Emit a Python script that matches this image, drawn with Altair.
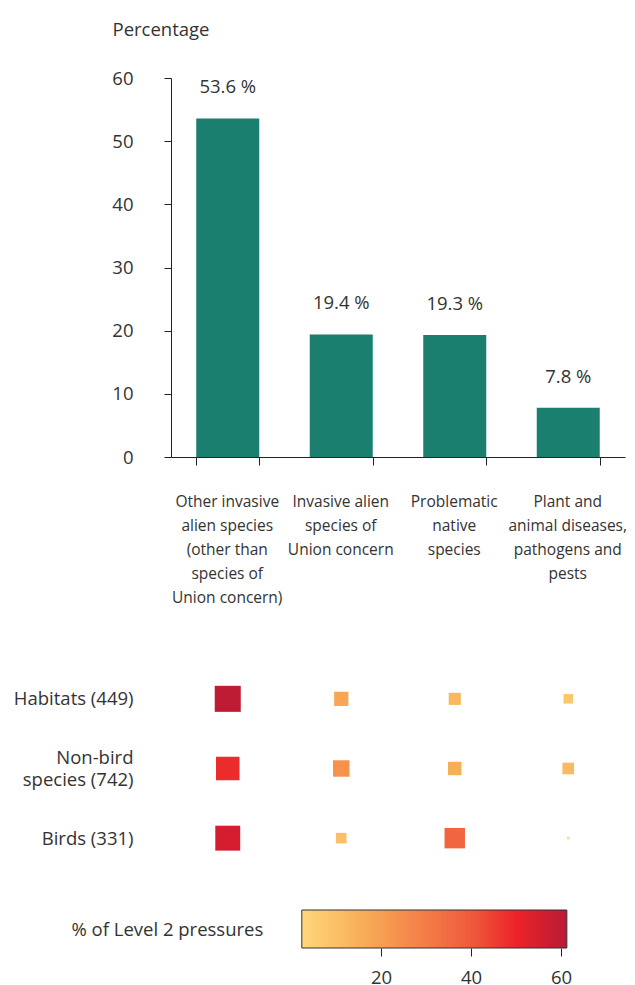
import json
import altair as alt
import pandas as pd

# ---- data ----
categories = [
    "Other invasive alien species (other than species of Union concern)",
    "Invasive alien species of Union concern",
    "Problematic native species",
    "Plant and animal diseases, pathogens and pests",
]
category_lines = [
    ["Other invasive", "alien species", "(other than", "species of", "Union concern)"],
    ["Invasive alien", "species of", "Union concern"],
    ["Problematic", "native", "species"],
    ["Plant and", "animal diseases,", "pathogens and", "pests"],
]
percentages = [53.6, 19.4, 19.3, 7.8]

groups = ["Habitats (449)", "Non-bird species (742)", "Birds (331)"]
group_lines = [["Habitats (449)"], ["Non-bird", "species (742)"], ["Birds (331)"]]
habitats_values = [60, 18, 13, 8]
nonbird_values = [49, 24, 16, 12]
birds_values = [55, 10, 37, 0.5]

legend_title = "% of Level 2 pressures"
legend_ticks = [20, 40, 60]
color_domain = [2.4, 17, 30, 40, 50, 61.3]
color_range = ["#FFD77B", "#F7AA55", "#F47C48", "#F05A3C", "#EC2329", "#B81B35"]

# ---- tables ----
bar_df = pd.DataFrame({"category": categories, "value": percentages})
rows = []
for g, vals in zip(groups, [habitats_values, nonbird_values, birds_values]):
    for c, v in zip(categories, vals):
        rows.append({"group": g, "category": c, "value": v})
sq_df = pd.DataFrame(rows)
legend_df = pd.DataFrame({"start": [color_domain[0]], "end": [color_domain[-1]], "row": [""]})

cat_map = json.dumps(dict(zip(categories, category_lines)))
grp_map = json.dumps(dict(zip(groups, group_lines)))
two_line_groups = json.dumps([g for g, ln in zip(groups, group_lines) if len(ln) == 2])

# ---- layout constants ----
TEXT = "#333333"
AXIS = "#222222"
FS = 18.5
W = 454
ORIGIN = 170            # expected page x of the plot origin
PX_PER_UNIT = 4.5
TICK20_PX = 210         # position of the "20" legend tick from the plot origin
ROW_LH = 22
lo = 20 - TICK20_PX / PX_PER_UNIT
hi = lo + W / PX_PER_UNIT

x_scale = alt.Scale(domain=categories, paddingInner=0.445, paddingOuter=0.2225)

base = alt.Chart(bar_df)
bars = base.mark_bar(color="#1B7F70").encode(
    x=alt.X("category:N", sort=categories, scale=x_scale,
            axis=alt.Axis(title=None, labelAngle=0, labelExpr=f"{cat_map}[datum.value]",
                          labelFontSize=15.5, labelLineHeight=24, labelBaseline="top",
                          labelColor=TEXT, labelPadding=29, labelOffset=-1, tickBand="extent",
                          tickSize=8, tickColor=AXIS, domainColor=AXIS, labelLimit=200)),
    y=alt.Y("value:Q", scale=alt.Scale(domain=[0, 60], nice=False),
            axis=alt.Axis(title="Percentage", titleAngle=0, titleX=111 - ORIGIN, titleY=-49,
                          titleAlign="left", titleBaseline="middle", titleFontSize=FS,
                          titleFontWeight="normal", titleColor=TEXT,
                          values=[0, 10, 20, 30, 40, 50, 60], grid=False,
                          labelFontSize=FS, labelColor=TEXT, labelPadding=31,
                          tickSize=7, tickColor=AXIS, domainColor=AXIS)),
)
labels = base.transform_calculate(
    label="format(datum.value, '.1f') + ' %'"
).mark_text(fontSize=FS, color=TEXT, baseline="middle", dy=-31).encode(
    x=alt.X("category:N", sort=categories, scale=x_scale),
    y=alt.Y("value:Q"),
    text="label:N",
)
top = (bars + labels).properties(width=W, height=379)

color_scale = alt.Scale(domain=color_domain, range=color_range, clamp=True)
squares = alt.Chart(sq_df).mark_square(opacity=1).encode(
    x=alt.X("category:N", sort=categories, scale=x_scale, axis=None),
    y=alt.Y("group:N", sort=groups,
            scale=alt.Scale(paddingInner=0, paddingOuter=0, range=[22, 231]),
            axis=alt.Axis(title=None, domain=False, ticks=False, labelPadding=38,
                          labelExpr=f"{grp_map}[datum.value]", labelFontSize=FS,
                          labelLineHeight=ROW_LH, labelColor=TEXT, labelAlign="right",
                          labelOffset={"condition": {"test": f"indexof({two_line_groups}, datum.value) >= 0",
                                                     "value": -ROW_LH / 2},
                                       "value": 0})),
    color=alt.Color("value:Q", scale=color_scale, legend=None),
    size=alt.Size("value:Q", scale=alt.Scale(domain=[0, 62], range=[0, 700]), legend=None),
).properties(width=W, height=231)

span = color_domain[-1] - color_domain[0]
grad = alt.Gradient(
    gradient="linear", x1=0, x2=1, y1=0, y2=0,
    stops=[alt.GradientStop(offset=(d - color_domain[0]) / span, color=c)
           for d, c in zip(color_domain, color_range)],
)
legend = alt.Chart(legend_df).mark_rect(fill=grad, stroke="#333333", strokeWidth=1).encode(
    x=alt.X("start:Q", scale=alt.Scale(domain=[lo, hi], nice=False, zero=False),
            axis=alt.Axis(title=None, values=legend_ticks, domain=False, grid=False,
                          tickSize=8, tickColor=AXIS, labelFontSize=FS, labelColor=TEXT,
                          labelPadding=12, labelFlush=False)),
    x2="end:Q",
    y=alt.Y("row:N", scale=alt.Scale(paddingInner=0, paddingOuter=0),
            axis=alt.Axis(title=legend_title, titleAngle=0, titleX=70 - ORIGIN, titleY=19,
                          titleAlign="left", titleBaseline="middle", titleFontSize=FS,
                          titleFontWeight="normal", titleColor=TEXT, labels=False,
                          ticks=False, domain=False, grid=False)),
).properties(width=W, height=38)

chart = alt.vconcat(top, squares, legend, spacing=36).properties(
    padding={"left": 5, "top": 12, "right": 0, "bottom": 0}
).configure(font="Open Sans").configure_view(stroke=None)

chart.save("out.html", embed_options={"renderer": "svg", "actions": False})
